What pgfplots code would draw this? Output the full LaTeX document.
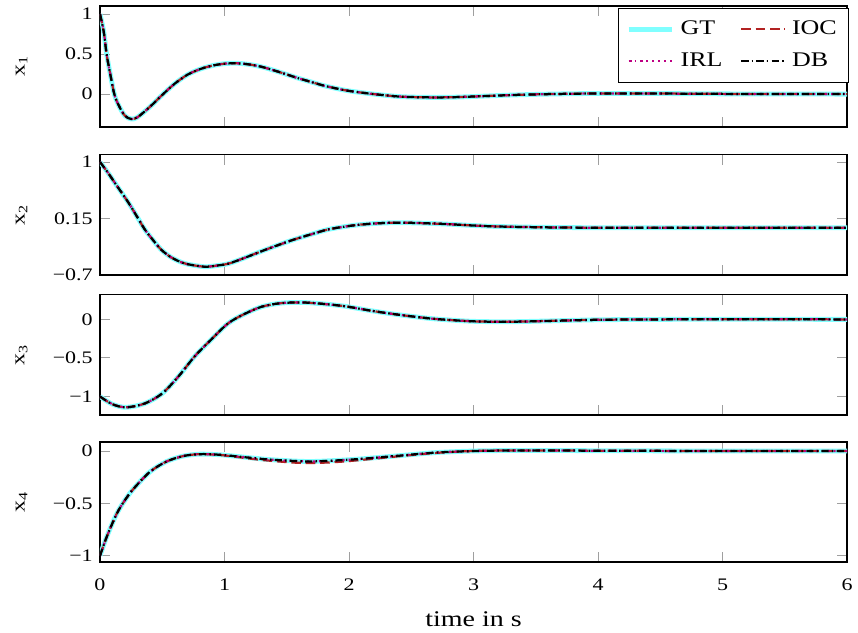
\documentclass[border=0pt]{standalone}
\usepackage{fontspec}
\setmainfont[FakeStretch=1.25]{Liberation Serif}
\usepackage{pgfplots}
\usepackage{pgfplotstable}
\pgfplotsset{compat=1.18}
\definecolor{gtc}{RGB}{128,255,255}
\definecolor{iocc}{RGB}{178,34,34}
\definecolor{irlc}{RGB}{190,0,130}

\pgfplotstableread{
t v
0 1.0
0.03 0.78
0.053 0.5
0.08 0.27
0.115 0.0
0.15 -0.14
0.2 -0.27
0.25 -0.31
0.3 -0.29
0.4 -0.16
0.5 -0.01
0.6 0.13
0.7 0.24
0.8 0.31
0.9 0.355
1.0 0.38
1.1 0.385
1.2 0.37
1.3 0.34
1.4 0.295
1.5 0.245
1.6 0.195
1.7 0.15
1.8 0.105
1.9 0.07
2.0 0.04
2.2 0.0
2.4 -0.03
2.6 -0.04
2.8 -0.04
3.0 -0.03
3.3 -0.012
3.6 0.0
4.0 0.008
4.5 0.007
5.0 0.003
5.5 0.001
6.0 0.0
}\xone

\pgfplotstableread{
t v
0 1.0
0.06 0.85
0.12 0.685
0.23 0.385
0.3 0.17
0.36 -0.015
0.42 -0.16
0.49 -0.315
0.56 -0.42
0.63 -0.49
0.7 -0.535
0.84 -0.575
0.95 -0.555
1.03 -0.53
1.15 -0.45
1.30 -0.34
1.43 -0.25
1.56 -0.165
1.7 -0.085
1.83 -0.015
1.97 0.03
2.10 0.06
2.25 0.08
2.4 0.088
2.6 0.08
2.8 0.065
3.0 0.045
3.2 0.03
3.6 0.017
4.0 0.012
5.0 0.01
6.0 0.01
}\xtwo

\pgfplotstableread{
t v
0 -1.0
0.1 -1.1
0.21 -1.14
0.36 -1.09
0.5 -0.96
0.63 -0.74
0.76 -0.48
0.9 -0.25
1.03 -0.05
1.16 0.07
1.30 0.165
1.45 0.21
1.62 0.22
1.8 0.2
1.97 0.17
2.15 0.12
2.31 0.08
2.5 0.04
2.7 0.005
3.0 -0.025
3.3 -0.03
3.6 -0.02
4.0 -0.005
4.5 0.0
5.0 0.002
6.0 0.0
}\xthree

\pgfplotstableread{
t gt ioc
0 -1.0 -1.0
0.054 -0.82 -0.82
0.134 -0.6 -0.6
0.2 -0.47 -0.47
0.27 -0.36 -0.36
0.4 -0.2 -0.2
0.535 -0.1 -0.1
0.67 -0.048 -0.048
0.8 -0.03 -0.03
0.95 -0.035 -0.037
1.07 -0.048 -0.052
1.2 -0.064 -0.072
1.34 -0.08 -0.09
1.55 -0.095 -0.11
1.7 -0.1 -0.115
1.9 -0.09 -0.105
2.1 -0.075 -0.085
2.4 -0.045 -0.05
2.7 -0.015 -0.018
3.0 0.0 0.0
3.3 0.005 0.005
3.6 0.005 0.005
4.0 0.003 0.003
5.0 0.0 0.0
6.0 0.0 0.0
}\xfour

\pgfplotsset{
  myax/.style={
    scale only axis, width=466.9pt,
    xmin=0, xmax=6, xtick={0,...,6},
    axis line style={line width=0.9pt},
    major tick style={color=gray!75, line width=0.6pt},
    major tick length=6.5pt,
    /pgf/number format/assume math mode=true,
    tick label style={font=\fontsize{11}{13}\selectfont},
    xticklabel style={yshift=-7pt},
    yticklabel style={xshift=-1pt},
    ylabel style={at={(axis description cs:-0.105,0.5)}, anchor=center, font=\fontsize{12}{14}\selectfont},
    anchor=north west,
    legend image code/.code={\draw[##1] plot coordinates {(0cm,0cm) (0.95cm,0cm)};},
  },
  gt/.style={gtc, line width=3pt, smooth},
  ioc/.style={iocc, line width=1.4pt, dash pattern=on 6pt off 3pt, smooth},
  irl/.style={irlc, line width=1.4pt, dash pattern=on 1.2pt off 2.5pt, smooth},
  db/.style={black, line width=1.4pt, dash pattern=on 4.5pt off 2pt on 1pt off 2pt, smooth},
}

\begin{document}
\begin{tikzpicture}
\begin{axis}[myax, at={(62.5pt,-3.75pt)}, height=75.6pt,
  ymin=-0.41, ymax=1.1, ytick={0,0.5,1}, yticklabels={0,0.5,1},
  xticklabels={},
  ylabel={x\textsubscript{1}},
  legend columns=2,
  legend cell align=left,
  legend style={at={(1.002,0.985)}, anchor=north east, draw=black, line width=0.6pt,
    font=\fontsize{13}{15}\selectfont, row sep=6pt, inner xsep=5pt, inner ysep=6pt,
    /tikz/every odd column/.append style={column sep=2pt},
    /tikz/every even column/.append style={column sep=9pt}},
]
\addplot[gt] table[x=t,y=v]{\xone};
\addlegendentry{GT}
\addplot[ioc] table[x=t,y=v]{\xone};
\addlegendentry{IOC}
\addplot[irl] table[x=t,y=v]{\xone};
\addlegendentry{IRL}
\addplot[db] table[x=t,y=v]{\xone};
\addlegendentry{DB}
\end{axis}

\begin{axis}[myax, at={(62.5pt,-96.7pt)}, height=75.2pt,
  ymin=-0.7, ymax=1.11, ytick={-0.7,0.15,1}, yticklabels={−0.7,0.15,1},
  xticklabels={},
  ylabel={x\textsubscript{2}},
]
\addplot[gt] table[x=t,y=v]{\xtwo};
\addplot[ioc] table[x=t,y=v]{\xtwo};
\addplot[irl] table[x=t,y=v]{\xtwo};
\addplot[db] table[x=t,y=v]{\xtwo};
\end{axis}

\begin{axis}[myax, at={(62.5pt,-184.2pt)}, height=75.2pt,
  ymin=-1.24, ymax=0.32, ytick={-1,-0.5,0}, yticklabels={−1,−0.5,0},
  xticklabels={},
  ylabel={x\textsubscript{3}},
]
\addplot[gt] table[x=t,y=v]{\xthree};
\addplot[ioc] table[x=t,y=v]{\xthree};
\addplot[irl] table[x=t,y=v]{\xthree};
\addplot[db] table[x=t,y=v]{\xthree};
\end{axis}

\begin{axis}[myax, at={(62.5pt,-276.25pt)}, height=75pt,
  ymin=-1.06, ymax=0.086, ytick={-1,-0.5,0}, yticklabels={−1,−0.5,0},
  xticklabels={0,1,2,3,4,5,6},
  ylabel={x\textsubscript{4}},
  xlabel={time in s},
  xlabel style={at={(axis description cs:0.5,0)}, anchor=center, yshift=-36pt, font=\fontsize{14}{16}\selectfont},
]
\addplot[gt] table[x=t,y=gt]{\xfour};
\addplot[ioc] table[x=t,y=ioc]{\xfour};
\addplot[irl] table[x=t,y=gt]{\xfour};
\addplot[db] table[x=t,y=gt]{\xfour};
\end{axis}
\pgfresetboundingbox
\path (0pt,0pt) rectangle (536.25pt,-395.6pt);
\end{tikzpicture}
\end{document}
